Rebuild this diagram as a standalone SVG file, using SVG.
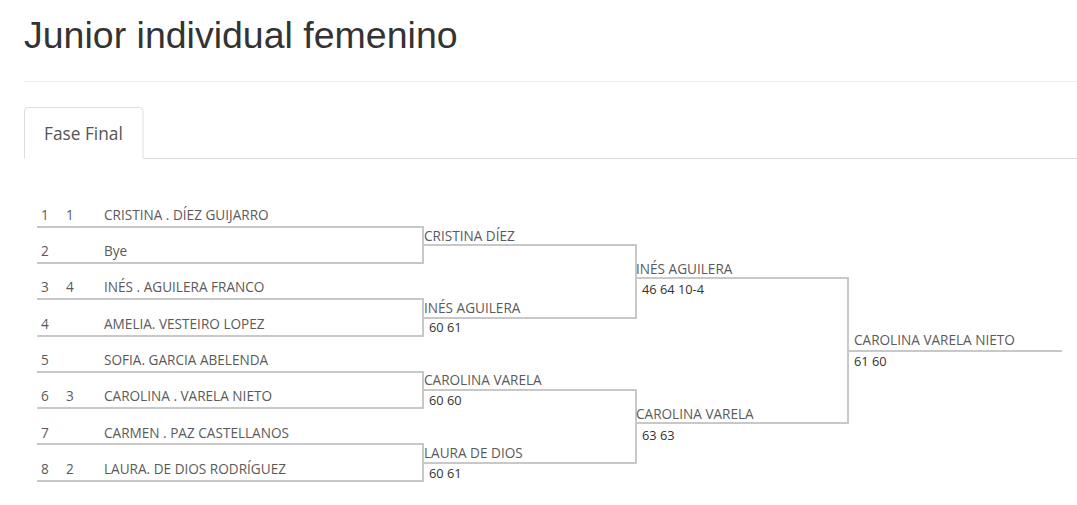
<svg xmlns="http://www.w3.org/2000/svg" width="1077" height="505" viewBox="0 0 1077 505">
<style>
.title{font-family:"Liberation Sans",Arial,sans-serif;font-size:37.5px;fill:#333}
.tab{font-family:"Open Sans","Noto Sans",sans-serif;font-size:17.3px;fill:#555}
.t{font-family:"Open Sans","Noto Sans",sans-serif;font-size:13.6px;fill:#5a5a5a}
.s{font-family:"Open Sans","Noto Sans",sans-serif;font-size:12.8px;fill:#333}
.ln{stroke:#c8c8c8;stroke-width:2;fill:none}
</style>
<rect width="1077" height="505" fill="#fff"/>
<g id="header">
<text class="title" x="24" y="48">Junior individual femenino</text>
<line x1="24" y1="81.5" x2="1077" y2="81.5" stroke="#eee" stroke-width="1"/>
<path d="M143.5 158.5 H1077" stroke="#ddd" stroke-width="1" fill="none"/>
<path d="M24.5 158.5 V111 Q24.5 107.5 28 107.5 H139.5 Q143 107.5 143 111 V158.5" stroke="#ddd" stroke-width="1" fill="#fff"/>
<text class="tab" x="44" y="140">Fase Final</text>
</g>
<g id="connectors">
<path class="ln" d="M37 227 H423 V263 H37"/>
<path class="ln" d="M37 299 H423 V336 H37"/>
<path class="ln" d="M37 372 H423 V408 H37"/>
<path class="ln" d="M37 444 H423 V481 H37"/>
<path class="ln" d="M423 245 H636 V318 H423"/>
<path class="ln" d="M423 390 H636 V463 H423"/>
<path class="ln" d="M636 278 H848 V423 H636"/>
<path class="ln" d="M848 351 H1062"/>
</g>
<g id="p1"><text class="t" x="41" y="220">1</text><text class="t" x="66" y="220">1</text><text class="t" x="104" y="220">CRISTINA . DÍEZ GUIJARRO</text></g>
<g id="p2"><text class="t" x="41" y="256">2</text><text class="t" x="104" y="256">Bye</text></g>
<g id="p3"><text class="t" x="41" y="292">3</text><text class="t" x="66" y="292">4</text><text class="t" x="104" y="292">INÉS . AGUILERA FRANCO</text></g>
<g id="p4"><text class="t" x="41" y="329">4</text><text class="t" x="104" y="329">AMELIA. VESTEIRO LOPEZ</text></g>
<g id="p5"><text class="t" x="41" y="365">5</text><text class="t" x="104" y="365">SOFIA. GARCIA ABELENDA</text></g>
<g id="p6"><text class="t" x="41" y="401">6</text><text class="t" x="66" y="401">3</text><text class="t" x="104" y="401">CAROLINA . VARELA NIETO</text></g>
<g id="p7"><text class="t" x="41" y="438">7</text><text class="t" x="104" y="438">CARMEN . PAZ CASTELLANOS</text></g>
<g id="p8"><text class="t" x="41" y="474">8</text><text class="t" x="66" y="474">2</text><text class="t" x="104" y="474">LAURA. DE DIOS RODRÍGUEZ</text></g>
<g id="r2m1"><text class="t" x="424" y="241">CRISTINA DÍEZ</text></g>
<g id="r2m2"><text class="t" x="424" y="313">INÉS AGUILERA</text><text class="s" x="429" y="332">60 61</text></g>
<g id="r2m3"><text class="t" x="424" y="385">CAROLINA VARELA</text><text class="s" x="429" y="405">60 60</text></g>
<g id="r2m4"><text class="t" x="424" y="458">LAURA DE DIOS</text><text class="s" x="429" y="478">60 61</text></g>
<g id="r3m1"><text class="t" x="636" y="274">INÉS AGUILERA</text><text class="s" x="642" y="294">46 64 10-4</text></g>
<g id="r3m2"><text class="t" x="636" y="419">CAROLINA VARELA</text><text class="s" x="642" y="440">63 63</text></g>
<g id="final"><text class="t" x="854" y="345">CAROLINA VARELA NIETO</text><text class="s" x="854" y="366">61 60</text></g>
</svg>
